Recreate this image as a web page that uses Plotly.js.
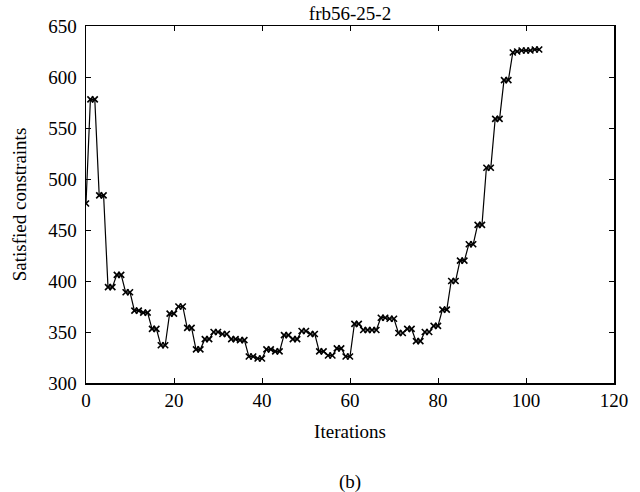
<!DOCTYPE html>
<html>
<head>
<meta charset="utf-8">
<script src="https://cdn.plot.ly/plotly-3.0.1.min.js"></script>
<style>
  html, body { margin: 0; padding: 0; background: #fff; }
  #chart { width: 640px; height: 492px; }
</style>
</head>
<body>
<div id="chart"></div>
<script>
// Iteration index and number of satisfied constraints
const iterations = [
  0, 1, 2, 3, 4, 5, 6, 7, 8, 9, 10, 11, 12, 13, 14, 15, 16, 17, 18, 19, 20,
  21, 22, 23, 24, 25, 26, 27, 28, 29, 30, 31, 32, 33, 34, 35, 36, 37, 38, 39, 40,
  41, 42, 43, 44, 45, 46, 47, 48, 49, 50, 51, 52, 53, 54, 55, 56, 57, 58, 59, 60,
  61, 62, 63, 64, 65, 66, 67, 68, 69, 70, 71, 72, 73, 74, 75, 76, 77, 78, 79, 80,
  81, 82, 83, 84, 85, 86, 87, 88, 89, 90, 91, 92, 93, 94, 95, 96, 97, 98, 99, 100,
  101, 102, 103
];
const satisfied = [
  476, 578, 578, 484, 484, 394, 394, 406, 406, 389, 389, 371, 371, 369, 369, 353, 353, 337, 337, 368, 368,
  375, 375, 354, 354, 333, 333, 343, 343, 350, 350, 348, 348, 343, 343, 342, 342, 326, 326, 324, 324,
  333, 333, 331, 331, 347, 347, 343, 343, 351, 351, 348, 348, 331, 331, 327, 327, 334, 334, 326, 326,
  358, 358, 352, 352, 352, 352, 364, 364, 363, 363, 349, 349, 353, 353, 341, 341, 350, 350, 356, 356,
  372, 372, 400, 400, 420, 420, 436, 436, 455, 455, 511, 511, 559, 559, 597, 597, 624, 625, 626, 626,
  626, 627, 627
];
const chartTitle = 'frb56-25-2';
const xTitle = 'Iterations';
const yTitle = 'Satisfied constraints';
const panelLabel = '(b)';

const FONT = 'Liberation Serif, Times New Roman, serif';

const trace = {
  x: iterations,
  y: satisfied,
  type: 'scatter',
  mode: 'lines+markers',
  line: { color: '#000', width: 1.2 },
  marker: { symbol: 'x-thin', size: 6, color: '#000', line: { color: '#000', width: 1.6 } },
  hoverinfo: 'x+y',
  showlegend: false
};

const axisCommon = {
  showline: true,
  linecolor: '#000',
  linewidth: 1.5,
  mirror: 'ticks',
  ticks: 'inside',
  ticklen: 5,
  tickwidth: 1,
  tickcolor: '#000',
  showgrid: false,
  zeroline: false,
  tickfont: { family: FONT, size: 19, color: '#000' }
};

const layout = {
  width: 640,
  height: 492,
  margin: { l: 86, r: 26, t: 26, b: 109 },
  paper_bgcolor: '#fff',
  plot_bgcolor: '#fff',
  font: { family: FONT, color: '#000' },
  title: {
    text: chartTitle,
    font: { family: FONT, size: 19, color: '#000' },
    x: 0.5, xref: 'paper', xanchor: 'center',
    y: 1 - 13 / 492, yref: 'container', yanchor: 'middle'
  },
  xaxis: Object.assign({}, axisCommon, {
    range: [0, 120],
    dtick: 20,
    tick0: 0,
    title: { text: xTitle, font: { family: FONT, size: 19, color: '#000' }, standoff: 14 }
  }),
  yaxis: Object.assign({}, axisCommon, {
    range: [300, 650],
    dtick: 50,
    tick0: 300,
    ticklabelstandoff: 4,
    title: { text: yTitle, font: { family: FONT, size: 19, color: '#000' }, standoff: 16 }
  }),
  annotations: [{
    text: panelLabel,
    xref: 'paper', yref: 'paper',
    x: 0.5, y: -(482 - 382.7) / 357,
    xanchor: 'center', yanchor: 'middle',
    showarrow: false,
    font: { family: FONT, size: 19, color: '#000' }
  }]
};

Plotly.newPlot('chart', [trace], layout, { staticPlot: true, displayModeBar: false });
</script>
</body>
</html>
